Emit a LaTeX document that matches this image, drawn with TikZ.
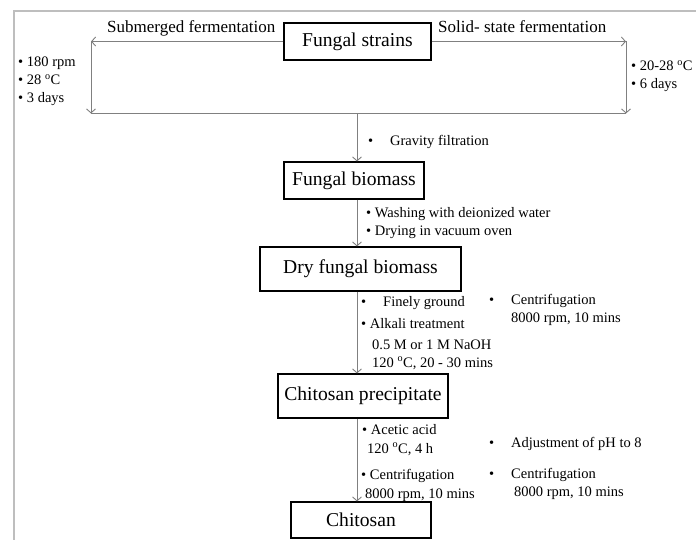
\documentclass[tikz,border=0pt]{standalone}
\usepackage{fontspec}
\setmainfont{Liberation Serif}
\usetikzlibrary{arrows.meta}
\definecolor{linegray}{HTML}{808080}
\definecolor{framegray}{HTML}{BEBEBE}
\newcommand{\tabbul}{\makebox[22pt][l]{\textbullet}}
\newcommand{\degc}{\textsuperscript{o}C}
\tikzset{
  box/.style={draw, line width=1.1pt, inner sep=0pt, font=\fontsize{19.6}{23}\selectfont},
  flow/.style={draw=linegray, line width=0.9pt, -{Straight Barb[length=4pt,width=9pt]}},
  plain/.style={draw=linegray, line width=0.9pt},
  note/.style={anchor=base west, inner sep=0pt, font=\fontsize{14.5}{18}\selectfont},
  branch/.style={anchor=base west, inner sep=0pt, font=\fontsize{17}{20}\selectfont}
}
\begin{document}
\begin{tikzpicture}[x=1pt,y=-1pt]
  \useasboundingbox (0,0) rectangle (696,540);
  \draw[framegray, line width=1.5pt] (14,540) -- (14,11) -- (696,11);
  \node[box, minimum width=147pt, minimum height=37pt] (strains) at (357.5,41.5) {Fungal strains};
  \node[box, minimum width=140pt, minimum height=37pt] (biomass) at (354,180.5) {Fungal biomass};
  \node[box, minimum width=201pt, minimum height=44pt] (dry) at (360.5,269) {Dry fungal biomass};
  \node[box, minimum width=170pt, minimum height=44pt] (precip) at (363,396) {Chitosan precipitate};
  \node[box, minimum width=140pt, minimum height=36pt] (chitosan) at (361,520) {Chitosan};
  \coordinate (lt) at (91,41.5);
  \coordinate (lb) at (91,113.5);
  \coordinate (rt) at (626,41.5);
  \coordinate (rb) at (626,113.5);
  \coordinate (spine) at (357,113.5);
  \draw[flow] (strains.west) -- (lt);
  \draw[flow] (strains.east) -- (rt);
  \draw[flow] (lt) -- (lb);
  \draw[flow] (rt) -- (rb);
  \draw[plain] (lb) -- (rb);
  \draw[flow] (spine) -- (biomass.north -| spine);
  \draw[flow] (biomass.south -| spine) -- (dry.north -| spine);
  \draw[flow] (dry.south -| spine) -- (precip.north -| spine);
  \draw[flow] (precip.south -| spine) -- (chitosan.north -| spine);
  \node[branch] (sub) at (107,33) {Submerged fermentation};
  \node[branch] (ssf) at (438,33) {Solid- state fermentation};
  \node[note] (sub1) at (18,67) {\textbullet\ 180 rpm};
  \node[note] (sub2) at (18,85) {\textbullet\ 28 \degc};
  \node[note] (sub3) at (18,103) {\textbullet\ 3 days};
  \node[note] (ssf1) at (631,71) {\textbullet\ 20-28 \degc};
  \node[note] (ssf2) at (631,89) {\textbullet\ 6 days};
  \node[note] (grav) at (368,146) {\tabbul Gravity filtration};
  \node[note] (wash) at (366,218) {\textbullet\ Washing with deionized water};
  \node[note] (vac) at (366,236) {\textbullet\ Drying in vacuum oven};
  \node[note] (ground) at (361,306) {\tabbul Finely ground};
  \node[note] (alk1) at (361,328) {\textbullet\ Alkali treatment};
  \node[note] (alk2) at (372,349) {0.5 M or 1 M NaOH};
  \node[note] (alk3) at (372,367) {120 \degc, 20 - 30 mins};
  \node[note] (cen1) at (489,304) {\tabbul Centrifugation};
  \node[note] (cen2) at (511,322) {8000 rpm, 10 mins};
  \node[note] (acid1) at (362,434) {\textbullet\ Acetic acid};
  \node[note] (acid2) at (367,453) {120 \degc, 4 h};
  \node[note] (cen3) at (361,479) {\textbullet\ Centrifugation};
  \node[note] (cen4) at (365,498) {8000 rpm, 10 mins};
  \node[note] (ph) at (489,447) {\tabbul Adjustment of pH to 8};
  \node[note] (cen5) at (489,478) {\tabbul Centrifugation};
  \node[note] (cen6) at (514,496) {8000 rpm, 10 mins};
\end{tikzpicture}
\end{document}
